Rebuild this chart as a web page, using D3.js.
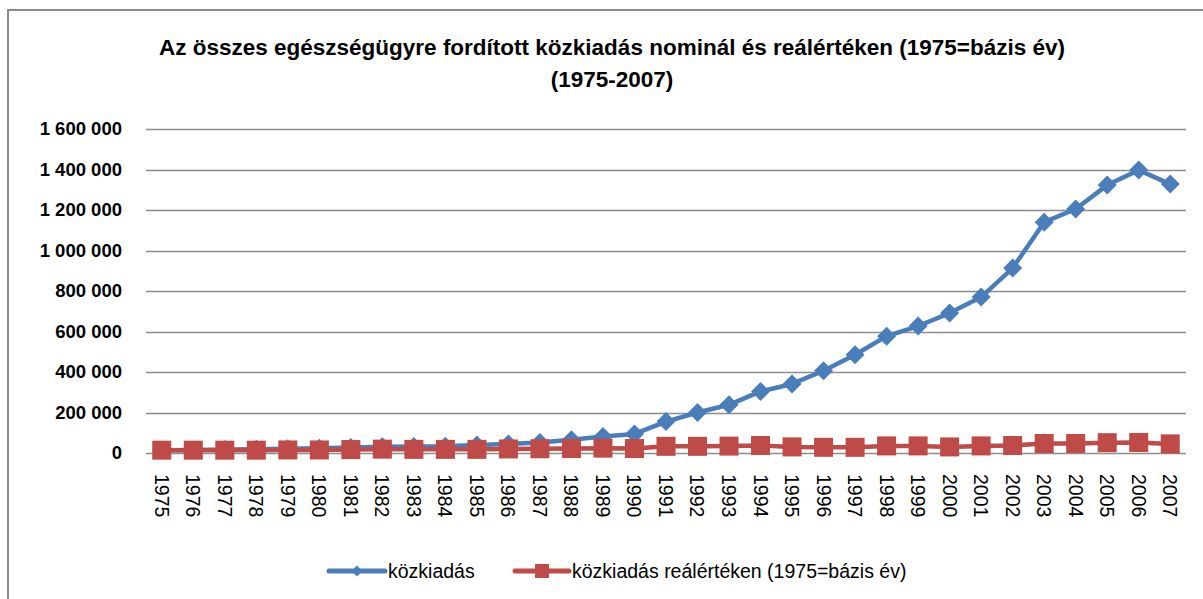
<!DOCTYPE html>
<html>
<head>
<meta charset="utf-8">
<script src="https://cdn.jsdelivr.net/npm/d3@7"></script>
<style>
  html, body { margin: 0; padding: 0; background: #ffffff; }
  svg { display: block; }
</style>
</head>
<body>
<svg id="chart" width="1203" height="599"></svg>
<script>
const years = ["1975","1976","1977","1978","1979","1980","1981","1982","1983","1984","1985","1986","1987","1988","1989","1990","1991","1992","1993","1994","1995","1996","1997","1998","1999","2000","2001","2002","2003","2004","2005","2006","2007"];
const nominal = [13000,15000,17000,19000,21000,23000,27000,31000,32000,33000,39000,45000,52000,66000,82000,94000,155000,200000,238000,304000,341000,406000,485000,577000,627000,691000,770000,913000,1140000,1205000,1323000,1397000,1328000];
const real = [14000,14000,14000,14000,15000,15000,17000,19000,18000,18000,18000,20000,21000,22000,24000,22000,33000,33000,34000,37000,30000,28000,28000,35000,35000,30000,35000,37000,47000,47000,51000,52000,45000];
const yTicks = [0,200000,400000,600000,800000,1000000,1200000,1400000,1600000];
const titleLines = ["Az összes egészségügyre fordított közkiadás nominál és reálértéken (1975=bázis év)", "(1975-2007)"];
const seriesNames = ["közkiadás", "közkiadás reálértéken (1975=bázis év)"];

const FONT = "'Liberation Sans', Arial, sans-serif";
const BLUE = "#4A7EBB";
const RED = "#BE4B48";

const svg = d3.select("#chart");

// chart area border (extends past the right/bottom edge as in the picture)
svg.append("rect")
  .attr("x", 8).attr("y", 10)
  .attr("width", 1220).attr("height", 620)
  .attr("fill", "#ffffff")
  .attr("stroke", "#8a8a8a").attr("stroke-width", 2);

// title
svg.append("g").selectAll("text").data(titleLines).enter().append("text")
  .attr("x", 612).attr("y", (d, i) => 55 + i * 32)
  .attr("text-anchor", "middle")
  .attr("font-family", FONT).attr("font-weight", "bold")
  .attr("font-size", "22.5px").attr("fill", "#000")
  .text(d => d);

const x = d3.scaleBand().domain(years).range([146, 1186]);
const y = d3.scaleLinear().domain([0, 1600000]).range([453, 129]);
const cx = d => x(d) + x.bandwidth() / 2;

// gridlines
svg.append("g").selectAll("line").data(yTicks).enter().append("line")
  .attr("x1", 146).attr("x2", 1186)
  .attr("y1", d => Math.round(y(d)) + 0.5).attr("y2", d => Math.round(y(d)) + 0.5)
  .attr("stroke", "#8c8c8c").attr("stroke-width", 1.3);

// y axis
const fmt = v => d3.format(",")(v).replace(/,/g, " ");
const yAxis = svg.append("g").attr("transform", "translate(146,0)")
  .call(d3.axisLeft(y).tickValues(yTicks).tickFormat(fmt).tickSize(0).tickPadding(24));
yAxis.select(".domain").remove();
yAxis.selectAll("text")
  .attr("font-family", FONT).attr("font-weight", "bold")
  .attr("font-size", "18.5px").attr("fill", "#000");

// x axis
const xAxis = svg.append("g").attr("transform", "translate(0,453)")
  .call(d3.axisBottom(x).tickSize(0).tickPadding(0));
xAxis.select(".domain").remove();
xAxis.selectAll("text")
  .attr("font-family", FONT).attr("font-size", "19.5px").attr("fill", "#000")
  .attr("text-anchor", "start")
  .attr("transform", "translate(0,21) rotate(90)")
  .attr("x", 0).attr("y", 0).attr("dy", "0.36em");

const diamond = r => `M0,${-r}L${r},0L0,${r}L${-r},0Z`;

// nominal series
const lineGen = d3.line().x((d, i) => cx(years[i])).y(d => y(d));
svg.append("path").datum(nominal)
  .attr("d", lineGen).attr("fill", "none")
  .attr("stroke", BLUE).attr("stroke-width", 4.5).attr("stroke-linejoin", "round");
svg.append("g").selectAll("path").data(nominal).enter().append("path")
  .attr("d", diamond(9.5))
  .attr("transform", (d, i) => `translate(${cx(years[i])},${y(d)})`)
  .attr("fill", BLUE);

// real series
svg.append("path").datum(real)
  .attr("d", lineGen).attr("fill", "none")
  .attr("stroke", RED).attr("stroke-width", 4.5).attr("stroke-linejoin", "round");
svg.append("g").selectAll("rect").data(real).enter().append("rect")
  .attr("x", (d, i) => cx(years[i]) - 9.5).attr("y", d => y(d) - 9.5)
  .attr("width", 19).attr("height", 19)
  .attr("fill", RED);

// legend
const legend = svg.append("g");
const leg = [
  {name: seriesNames[0], color: BLUE, x0: 329, x1: 385, tx: 388, marker: "diamond"},
  {name: seriesNames[1], color: RED, x0: 515, x1: 569, tx: 572, marker: "square"}
];
leg.forEach(l => {
  legend.append("line").attr("x1", l.x0).attr("x2", l.x1).attr("y1", 571).attr("y2", 571)
    .attr("stroke", l.color).attr("stroke-width", 5).attr("stroke-linecap", "round");
  const mx = (l.x0 + l.x1) / 2;
  if (l.marker === "diamond") {
    legend.append("path").attr("d", diamond(5.5)).attr("transform", `translate(${mx},571)`).attr("fill", l.color);
  } else {
    legend.append("rect").attr("x", mx - 7).attr("y", 564).attr("width", 14).attr("height", 14).attr("fill", l.color);
  }
  legend.append("text").attr("x", l.tx).attr("y", 571).attr("dy", "0.35em")
    .attr("font-family", FONT).attr("font-size", "19.5px").attr("fill", "#000")
    .text(l.name);
});
</script>
</body>
</html>
